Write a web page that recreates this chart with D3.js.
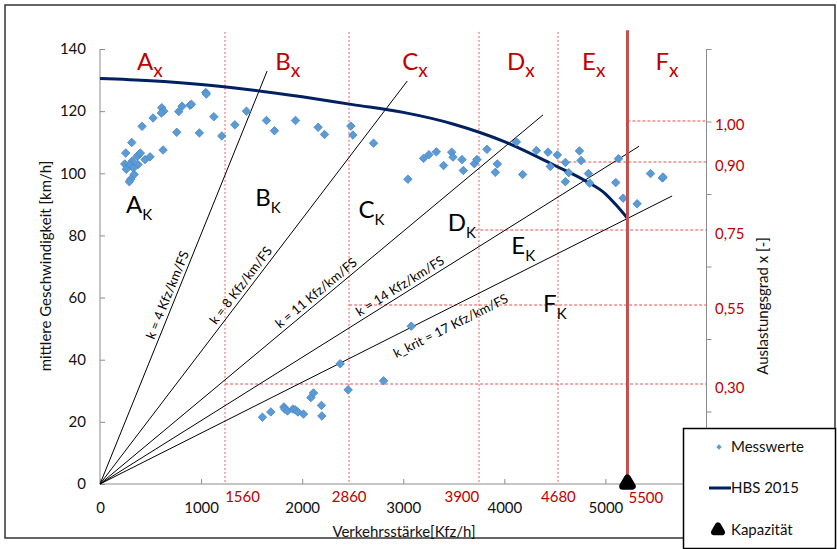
<!DOCTYPE html>
<html><head><meta charset="utf-8">
<script src="https://cdn.jsdelivr.net/npm/d3@7"></script>
<style>
html,body{margin:0;padding:0;background:#fff;}
svg{display:block;font-family:Lato, "Open Sans", sans-serif;}
</style></head>
<body>
<svg id="chart" width="837" height="549"></svg>
<script>
// ---------- DATA ----------
const xTicks = [0, 1000, 2000, 3000, 4000, 5000];
const yTicks = [0, 20, 40, 60, 80, 100, 120, 140];
const rightTicks = [0, 0.2, 0.4, 0.6, 0.8, 1.0, 1.2];

// Messwerte (Verkehrsstärke q [Kfz/h], Geschwindigkeit v [km/h])
const messQ = [1046,1052,611,631,607,812,779,891,904,525,416,1126,1334,759,983,1205,314,624,254,383,366,399,495,446,245,376,317,300,330,260,337,304,290,
  1449,1647,1726,1934,2158,2221,2482,2502,2706,3046,
  3201,3254,3327,3399,3479,3492,3581,3594,3703,3729,3828,3931,3911,4119,4181,4317,4432,4455,
  4525,4743,4604,4759,4637,4604,4832,4845,5129,5102,5175,5314,5446,5564,5570,
  3079,2376,2805,2455,2086,2112,2191,2195,1607,1690,1819,1828,1855,1908,1931,1957,2013];
const messV = [126.0,125.5,121.1,120.0,119.4,121.6,119.9,121.9,122.2,117.8,115.1,118.2,115.6,113.2,113.0,112.0,109.9,107.5,106.5,106.0,105.4,106.5,105.3,104.4,103.0,102.8,103.9,102.6,101.7,101.3,99.6,98.1,97.3,
  120.0,117.0,113.7,117.0,114.8,112.5,115.2,112.3,109.7,98.1,
  104.8,106.0,106.9,102.5,106.8,105.2,104.4,100.9,103.1,104.4,107.7,103.0,100.3,110.1,99.6,107.3,106.8,102.2,
  105.9,107.2,103.5,104.1,100.2,97.3,99.9,96.8,104.7,97.0,92.0,90.2,99.9,98.5,98.8,
  50.8,38.7,33.2,30.3,27.8,29.3,25.3,21.9,21.5,23.2,24.8,24.1,23.5,24.1,23.9,23.2,22.5];

// HBS 2015 curve
const hbsQ = [0, 500, 1000, 1500, 2000, 2500, 3000, 3500, 4000, 4500, 4800, 5000, 5100, 5218];
const hbsV = [130.5, 129.8, 128.6, 126.8, 124.6, 122.1, 119.6, 115.8, 110.2, 102.5, 97.6, 93.4, 90.0, 85.5];

// density rays (from origin to end point)
const kLabels = ["k = 4 Kfz/km/FS", "k = 8 Kfz/km/FS", "k = 11 Kfz/km/FS", "k = 14 Kfz/km/FS", "k_krit = 17 Kfz/km/FS"];
const kEndQ = [1653, 3040, 4383, 5333, 5660];
const kEndV = [132.9, 129.7, 118.8, 108.7, 92.7];
const kLabelAt = [0.45, 0.48, 0.50, 0.565, 0.60];   // fraction along ray
const kLabelSide = [-1, -1, -1, -1, 1];              // above / below ray

// zone boundaries (q) with their red labels
const zoneQ = [1238, 2465, 3752, 4535];
const zoneLabels = ["1560", "2860", "3900", "4680"];
const zoneAnchor = ["start", "middle", "end", "middle"];
const capacityQ = 5218;
const capacityLabel = "5500";

// Auslastungsgrad levels (speed level, start q, label)
const levelV = [32.3, 57.6, 81.9, 103.6, 116.9];
const levelStartQ = [1238, 2465, 3663, 4535, 5218];
const levelLabels = ["0,30", "0,55", "0,75", "0,90", "1,00"];

// zone letters
const xZoneLetters = ["A", "B", "C", "D", "E", "F"];
const xZoneQ = [366, 1733, 2990, 4027, 4769, 5495];
const xZoneV = 133.2;
const kZoneLetters = ["A", "B", "C", "D", "E", "F"];
const kZoneQ = [257, 1535, 2557, 3439, 4069, 4383];
const kZoneV = [87.3, 89.5, 85.7, 81.4, 73.9, 55.4];

const legendItems = ["Messwerte", "HBS 2015", "Kapazität"];

// ---------- CHART ----------
const svg = d3.select("#chart");
const red = "#c00000";
const x = d3.scaleLinear().domain([0, 6000]).range([100, 706.5]);
const y = d3.scaleLinear().domain([0, 140]).range([484, 49]);
const yr = d3.scaleLinear().domain([0, 1.2]).range([484, 49]);
const snap = v => Math.round(v);   // spread thin dashed lines over two pixels (soft look)

svg.append("rect").attr("width", 837).attr("height", 549).attr("fill", "#fff");
svg.append("rect").attr("x", 5).attr("y", 5).attr("width", 830).attr("height", 533)
  .attr("fill", "none").attr("stroke", "#333").attr("stroke-width", 1.5);

// axes
const gx = svg.append("g").attr("transform", "translate(0,484)")
  .call(d3.axisBottom(x).tickValues(xTicks).tickSize(-5).tickPadding(18).tickFormat(d3.format("d")));
const gy = svg.append("g").attr("transform", "translate(100,0)")
  .call(d3.axisLeft(y).tickValues(yTicks).tickSize(-5).tickPadding(14));
const gr = svg.append("g").attr("transform", "translate(706.5,0)")
  .call(d3.axisRight(yr).tickValues(rightTicks).tickSize(5).tickFormat(""));
[gx, gy, gr].forEach(g => {
  g.selectAll("path.domain").attr("stroke", "#8c8c8c");
  g.selectAll(".tick line").attr("stroke", "#8c8c8c");
  g.selectAll(".tick text").attr("fill", "#111").attr("font-size", 15).attr("font-family", "Lato");
});
gx.select("path.domain").attr("d", `M${x(0)},0H${x(6000)}`);
gr.select("path.domain").attr("d", `M0,${yr(0)}V${yr(1.2)}`);
gy.select("path.domain").attr("d", `M0,${y(0)}V${y(140)}`);

// zone verticals
svg.append("g").selectAll("line").data(zoneQ).join("line")
  .attr("x1", d => snap(x(d))).attr("x2", d => snap(x(d))).attr("y1", y(145.5)).attr("y2", y(0))
  .attr("stroke", "#e8605e").attr("stroke-width", 1).attr("stroke-dasharray", "2,2");
// level horizontals
svg.append("g").selectAll("line").data(levelV).join("line")
  .attr("x1", (d, i) => x(levelStartQ[i])).attr("x2", x(6000))
  .attr("y1", d => snap(y(d))).attr("y2", d => snap(y(d)))
  .attr("stroke", "#e05050").attr("stroke-width", 1).attr("stroke-dasharray", "3,2");

// rays
const rays = svg.append("g");
kEndQ.forEach((q, i) => {
  const x0 = x(0), y0 = y(0), x1 = x(q), y1 = y(kEndV[i]);
  rays.append("line").attr("x1", x0).attr("y1", y0).attr("x2", x1).attr("y2", y1)
    .attr("stroke", "#000").attr("stroke-width", 1);
  const t = kLabelAt[i];
  const px = x0 + (x1 - x0) * t, py = y0 + (y1 - y0) * t;
  const ang = Math.atan2(y1 - y0, x1 - x0) * 180 / Math.PI;
  rays.append("text").attr("transform", `translate(${px},${py}) rotate(${ang})`)
    .attr("text-anchor", "middle").attr("dy", kLabelSide[i] < 0 ? -4 : 21)
    .attr("font-size", 13).attr("fill", "#000").text(kLabels[i]);
});

// HBS curve
const hbs = hbsQ.map((q, i) => [q, hbsV[i]]);
svg.append("path").datum(hbs)
  .attr("d", d3.line().x(d => x(d[0])).y(d => y(d[1])).curve(d3.curveMonotoneX))
  .attr("fill", "none").attr("stroke", "#002060").attr("stroke-width", 3);

// measured points
const diamond = d3.symbol().type(d3.symbolSquare).size(36);
svg.append("g").selectAll("path").data(messQ.map((q, i) => [q, messV[i]])).join("path")
  .attr("d", diamond)
  .attr("transform", d => `translate(${x(d[0])},${y(d[1])}) rotate(45)`)
  .attr("fill", "#5b9bd5").attr("stroke", "#4a88c8").attr("stroke-width", 0.8);

// capacity line + marker
svg.append("line").attr("x1", x(capacityQ)).attr("x2", x(capacityQ)).attr("y1", y(146)).attr("y2", y(0))
  .attr("stroke", "#c0504d").attr("stroke-width", 3);
const tri = d3.symbol().type(d3.symbolTriangle).size(40);
svg.append("path").attr("d", tri).attr("transform", `translate(${x(capacityQ)},${y(0) - 0.5})`)
  .attr("fill", "#000").attr("stroke", "#000").attr("stroke-width", 7).attr("stroke-linejoin", "round");

// red x-labels
const redX = svg.append("g").attr("fill", red).attr("font-size", 15);
zoneQ.forEach((q, i) => {
  redX.append("text").attr("x", x(q)).attr("y", 502).attr("text-anchor", zoneAnchor[i]).text(zoneLabels[i]);
});
redX.append("text").attr("x", x(capacityQ) + 1).attr("y", 503).attr("text-anchor", "start").text(capacityLabel);

// red right labels
svg.append("g").selectAll("text").data(levelV).join("text")
  .attr("x", 715).attr("y", d => y(d) + 9).attr("fill", red).attr("font-size", 15)
  .text((d, i) => levelLabels[i]);

// zone letters
const zx = svg.append("g").attr("fill", red);
xZoneLetters.forEach((L, i) => {
  const t = zx.append("text").attr("x", x(xZoneQ[i])).attr("y", y(xZoneV)).attr("font-size", 24);
  t.append("tspan").text(L);
  t.append("tspan").attr("font-size", 19).attr("dy", 7).text("x");
});
const zk = svg.append("g").attr("fill", "#000");
kZoneLetters.forEach((L, i) => {
  const t = zk.append("text").attr("x", x(kZoneQ[i])).attr("y", y(kZoneV[i])).attr("font-size", 24);
  t.append("tspan").text(L);
  t.append("tspan").attr("font-size", 15).attr("dy", 7).text("K");
});

// axis titles
svg.append("text").attr("x", 404).attr("y", 537).attr("text-anchor", "middle")
  .attr("font-size", 15).attr("fill", "#111").text("Verkehrsstärke[Kfz/h]");
svg.append("text").attr("transform", "translate(51,266) rotate(-90)").attr("text-anchor", "middle")
  .attr("font-size", 15).attr("fill", "#111").text("mittlere Geschwindigkeit [km/h]");
svg.append("text").attr("transform", "translate(768,306) rotate(-90)").attr("text-anchor", "middle")
  .attr("font-size", 15).attr("fill", "#111").text("Auslastungsgrad x [-]");

// legend
const lg = svg.append("g");
lg.append("rect").attr("x", 683.5).attr("y", 428.5).attr("width", 152).attr("height", 120)
  .attr("fill", "#fff").attr("stroke", "#000").attr("stroke-width", 1.5);
const ly = [447, 488, 530];
lg.append("path").attr("d", d3.symbol().type(d3.symbolSquare).size(14))
  .attr("transform", `translate(719,${ly[0]}) rotate(45)`).attr("fill", "#5b9bd5");
lg.append("line").attr("x1", 709).attr("x2", 731).attr("y1", ly[1]).attr("y2", ly[1])
  .attr("stroke", "#002060").attr("stroke-width", 3);
lg.append("path").attr("d", d3.symbol().type(d3.symbolTriangle).size(28))
  .attr("transform", `translate(718,${ly[2]})`).attr("fill", "#000").attr("stroke", "#000")
  .attr("stroke-width", 6).attr("stroke-linejoin", "round");
legendItems.forEach((s, i) => {
  lg.append("text").attr("x", 731).attr("y", ly[i] + 5).attr("font-size", 15).attr("fill", "#111").text(s);
});
</script>
</body></html>
